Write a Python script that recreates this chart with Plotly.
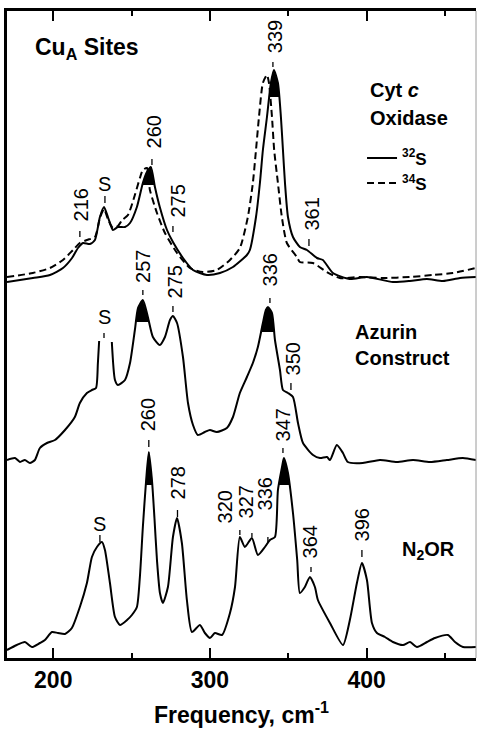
import numpy as np
import plotly.graph_objects as go

# ---------------- data (frequency in cm^-1, intensity in arbitrary units, stacked) -------------
cyt32_f = [170.5, 187, 197.9, 206.2, 212, 215.8, 219, 223.4, 226.6, 229.8, 232.4, 234.9, 238.1, 241.3,
           245.8, 249, 253.4, 257.2, 259.8, 262.3, 264.9, 268, 272.6, 276.4, 282.8, 289.2, 298.1, 306.4,
           314.7, 323.6, 325.5, 329.4, 331.9, 333.8, 336.4, 338.9, 340.8, 343.4, 345.3, 346.6, 347.9,
           349.8, 353, 357.4, 361.9, 368.3, 372.1, 378.5, 389.3, 400.2, 416.8, 427.6, 438.5, 448.7,
           459.6, 469.8]
cyt32_v = [376, 380, 383, 390, 400, 410, 415, 414, 418, 441, 451, 441, 428, 431,
           431, 435, 451, 475, 486, 491, 471, 451, 428, 416, 400, 388, 383, 385,
           391, 403, 408, 441, 475, 508, 541, 575, 588, 575, 541, 508, 475,
           441, 421, 411, 408, 400, 398, 385, 379, 381, 376, 377, 379, 377,
           380, 381]

cyt34_f = [170.5, 187, 197.9, 206.2, 212.6, 217, 221.5, 226.6, 229.8, 232.4, 234.9, 238.1, 241.3, 244,
           247.7, 252.1, 255.3, 257.2, 259.8, 261.7, 266.2, 271.3, 279, 287.2, 295.5, 304.4, 312.8,
           319.1, 324.2, 327.4, 329.4, 331.3, 333.8, 336.4, 337.7, 339.6, 341, 343.4, 345.9, 349.1,
           355.5, 357.4, 365.7, 374.6, 382.9, 395.7, 410.4, 427.6, 442.3, 455.1, 469.8]
cyt34_v = [381, 385, 390, 398, 408, 415, 418, 421, 440, 449, 439, 430, 432, 438,
           443, 463, 480, 488, 490, 468, 445, 425, 405, 390, 386, 388, 398,
           410, 441, 475, 508, 541, 575, 583, 575, 541, 508, 475, 441, 415,
           401, 396, 395, 386, 380, 381, 380, 381, 383, 385, 390]

azu_f = [170.5, 175.6, 178.8, 181.9, 185.1, 188.3, 191.5, 196, 201.1, 207.5, 213.8, 217, 221.5, 224.7,
         227.3, 228.5, 229.3, None, 237.4, 239.4, 241.3, 245.8, 249, 252.1, 254.1, 257.2, 260.4,
         263.6, 268, 271.3, 274.5, 276.4, 279, 282.8, 286, 289.2, 292.3, 296.8, 300, 304.4, 310.8,
         314.7, 319.1, 323.6, 327.4, 330.6, 333.8, 335.7, 337, 339.6, 341.5, 344.7, 346.6, 349.8,
         353, 356.2, 359.4, 365.8, 370.2, 374.7, 376.6, 381, 384.9, 388, 397.6, 408.5, 419.3, 429.6,
         440.4, 451.2, 461.4, 469.8]
azu_v = [198, 200, 196, 198, 195, 198, 210, 215, 218, 228, 241, 255, 265, 268,
         270, 295, 317, None, 316, 278, 273, 278, 295, 328, 350, 358, 341,
         321, 313, 321, 338, 342, 335, 301, 255, 233, 223, 226, 228, 226, 230,
         241, 265, 281, 295, 311, 335, 348, 351, 345, 318, 288, 268, 265,
         261, 235, 215, 203, 200, 201, 198, 213, 205, 196, 195, 198, 196, 198,
         196, 198, 200, 198]

n2o_f = [170.5, 176.8, 181.9, 186.4, 191.5, 194.7, 199.2, 203, 207.5, 211.9, 217, 221.5, 224.7, 227.9,
         231.1, 233, 236.2, 239.4, 242.6, 247.1, 250.2, 253.4, 255.3, 257.2, 259.3, 261, 263, 264.6,
         266.2, 268.1, 270, 273.2, 276.4, 279, 282.1, 285.3, 288.5, 293.6, 296.8, 300, 303.2, 307.7,
         312.8, 316, 319.1, 322.3, 326.8, 330.6, 335.1, 338.3, 341.5, 343.4, 346, 347.2, 349.8, 353,
         355.7, 357.4, 360.6, 363.8, 367, 368.9, 376.6, 384.9, 389.3, 393.8, 397, 400.2, 403.4, 406.6,
         411.7, 416.8, 423.2, 427.7, 432.1, 438.5, 443.6, 451.9, 456.4, 461.5, 469.8]
n2o_v = [8, 13, 16, 11, 15, 18, 26, 25, 24, 30, 51, 75, 101, 111,
         116, 108, 75, 41, 33, 38, 43, 51, 81, 131, 178, 206, 178, 140,
         98, 65, 55, 71, 121, 140, 115, 58, 26, 33, 25, 20, 25, 23,
         45, 71, 121, 111, 120, 103, 111, 118, 121, 168, 191, 200, 185, 145,
         98, 65, 71, 81, 71, 58, 35, 13, 38, 75, 95, 78, 35, 25,
         21, 16, 13, 16, 11, 16, 20, 23, 16, 11, 11]

# black-filled peak tops: (low freq, high freq, threshold level)
fill_cyt32 = [(255.0, 266.0, 473), (336.0, 346.0, 561)]
fill_azu = [(252.0, 262.0, 336), (331.0, 341.0, 326)]
fill_n2o = [(256.0, 266.0, 173), (341.0, 352.0, 173)]

# peak labels: text, text x, text bottom level, tick x, tick low, tick high
lab_text = ["216", "260", "275", "339", "361", "257", "275", "336", "350",
            "260", "278", "320", "327", "336", "347", "364", "396"]
lab_x = [217.7, 264.3, 279.0, 341.3, 364.5, 256.9, 277.7, 338.3, 353.0,
         260.4, 279.6, 309.6, 323.0, 335.1, 346.6, 363.8, 397.0]
lab_v = [435, 508, 438, 603, 425, 373, 358, 370, 281,
         225, 157, 133, 138, 146, 215, 98, 115]
tick_x = [217.0, 263.0, 276.4, 340.2, 363.2, 257.2, 276.4, 338.3, 351.7,
          261.0, 279.3, 319.1, 326.8, 337.0, 346.6, 364.5, 397.0]
tick_lo = [421, 493, 426, 591, 412, 363, 346, 355, 268,
           211, 141, 123, 121, 116, 205, 86, 101]
tick_hi = [427, 499, 432, 596, 419, 368, 352, 360, 275,
           218, 148, 128, 125, 121, 210, 91, 108]

# solvent "S" labels: x, text centre level, tick low, tick high
s_x = [233.0, 232.4, 229.8]
s_v = [474, 341, 134]
s_tick_lo = [455, 320, 116]
s_tick_hi = [462, 325, 123]

x_range = [170.5, 469.8]
y_range = [0, 647]

FONT = "Liberation Sans, Arial, Helvetica, sans-serif"

fig = go.Figure()


def add_fills(fx, fv, regions):
    fxa = np.array([np.nan if a is None else a for a in fx], dtype=float)
    fva = np.array([np.nan if a is None else a for a in fv], dtype=float)
    for lo, hi, thr in regions:
        idx = np.where((fxa >= lo) & (fxa <= hi) & (fva >= thr))[0]
        i0, i1 = idx[0], idx[-1]
        xl = np.interp(thr, [fva[i0 - 1], fva[i0]], [fxa[i0 - 1], fxa[i0]])
        xr = np.interp(thr, [fva[i1 + 1], fva[i1]], [fxa[i1 + 1], fxa[i1]])
        px = [xl] + list(fxa[i0:i1 + 1]) + [xr]
        pv = [thr] + list(fva[i0:i1 + 1]) + [thr]
        fig.add_trace(go.Scatter(x=px, y=pv, mode="lines", fill="toself", fillcolor="black",
                                 line=dict(color="black", width=0.5), showlegend=False,
                                 hoverinfo="skip"))


add_fills(cyt32_f, cyt32_v, fill_cyt32)
add_fills(azu_f, azu_v, fill_azu)
add_fills(n2o_f, n2o_v, fill_n2o)

line_kw = dict(color="black", width=2, shape="spline", smoothing=0.6)

fig.add_trace(go.Scatter(x=cyt32_f, y=cyt32_v, mode="lines", name="<sup>32</sup>S",
                         line=line_kw, legendrank=1))
fig.add_trace(go.Scatter(x=cyt34_f, y=cyt34_v, mode="lines", name="<sup>34</sup>S",
                         line=dict(color="black", width=2, dash="7px,4px", shape="spline", smoothing=0.6),
                         legendrank=2))
fig.add_trace(go.Scatter(x=azu_f, y=azu_v, mode="lines", line=line_kw, showlegend=False,
                         connectgaps=False))
fig.add_trace(go.Scatter(x=n2o_f, y=n2o_v, mode="lines", line=line_kw, showlegend=False))

# label ticks
tx, ty = [], []
for x, lo, hi in zip(tick_x + s_x, tick_lo + s_tick_lo, tick_hi + s_tick_hi):
    tx += [x, x, None]
    ty += [lo, hi, None]
fig.add_trace(go.Scatter(x=tx, y=ty, mode="lines", line=dict(color="black", width=1.3),
                         showlegend=False, hoverinfo="skip"))

annotations = []
for t, x, v in zip(lab_text, lab_x, lab_v):
    annotations.append(dict(x=x, y=v, xref="x", yref="y", text=t, showarrow=False,
                            textangle=-90, xanchor="center", yanchor="bottom",
                            font=dict(family=FONT, size=20, color="black")))
for x, v in zip(s_x, s_v):
    annotations.append(dict(x=x, y=v, xref="x", yref="y", text="S", showarrow=False,
                            xanchor="center", yanchor="middle",
                            font=dict(family=FONT, size=20, color="black")))

bold = dict(family=FONT, size=20, color="black", weight="bold")
annotations += [
    dict(x=187.1, y=610, xref="x", yref="y", text="Cu<sub>A</sub> Sites", showarrow=False,
         xanchor="left", yanchor="middle", font=dict(family=FONT, size=23, color="black", weight="bold")),
    dict(x=400.9, y=568, xref="x", yref="y", text="Cyt <i>c</i>", showarrow=False,
         xanchor="left", yanchor="middle", font=bold),
    dict(x=400.9, y=540, xref="x", yref="y", text="Oxidase", showarrow=False,
         xanchor="left", yanchor="middle", font=bold),
    dict(x=391.6, y=326, xref="x", yref="y", text="Azurin", showarrow=False,
         xanchor="left", yanchor="middle", font=bold),
    dict(x=391.6, y=300, xref="x", yref="y", text="Construct", showarrow=False,
         xanchor="left", yanchor="middle", font=bold),
    dict(x=421.2, y=108, xref="x", yref="y", text="N<sub>2</sub>OR", showarrow=False,
         xanchor="left", yanchor="middle", font=bold),
]

fig.update_layout(
    width=477, height=730,
    margin=dict(l=7, r=1, t=11, b=72),
    paper_bgcolor="white", plot_bgcolor="white",
    annotations=annotations,
    showlegend=True,
    legend=dict(x=0.757, y=0.800, xanchor="left", yanchor="top", bgcolor="rgba(0,0,0,0)",
                font=dict(family=FONT, size=17, color="black", weight="bold"),
                tracegroupgap=0, itemclick=False),
    shapes=[dict(type="line", xref="paper", yref="paper", x0=1, x1=1, y0=0, y1=1,
                 line=dict(color="#9a9a9a", width=1))],
)
fig.update_xaxes(range=x_range, tickvals=[200, 300, 400], ticks="inside", ticklen=10, tickwidth=2,
                 tickcolor="black", showline=True, linewidth=2.5, linecolor="black", mirror="ticks",
                 showgrid=False, zeroline=False,
                 minor=dict(tickvals=[250, 350, 450], ticks="inside", ticklen=5, tickwidth=2,
                            tickcolor="black"),
                 tickfont=dict(family=FONT, size=23, color="black", weight="bold"),
                 title=dict(text="Frequency, cm<sup>-1</sup>", standoff=15,
                            font=dict(family=FONT, size=23, color="black", weight="bold")))
fig.update_yaxes(range=y_range, showline=True, linewidth=3, linecolor="black", ticks="",
                 showticklabels=False, showgrid=False, zeroline=False)

fig.write_html("out.html")
